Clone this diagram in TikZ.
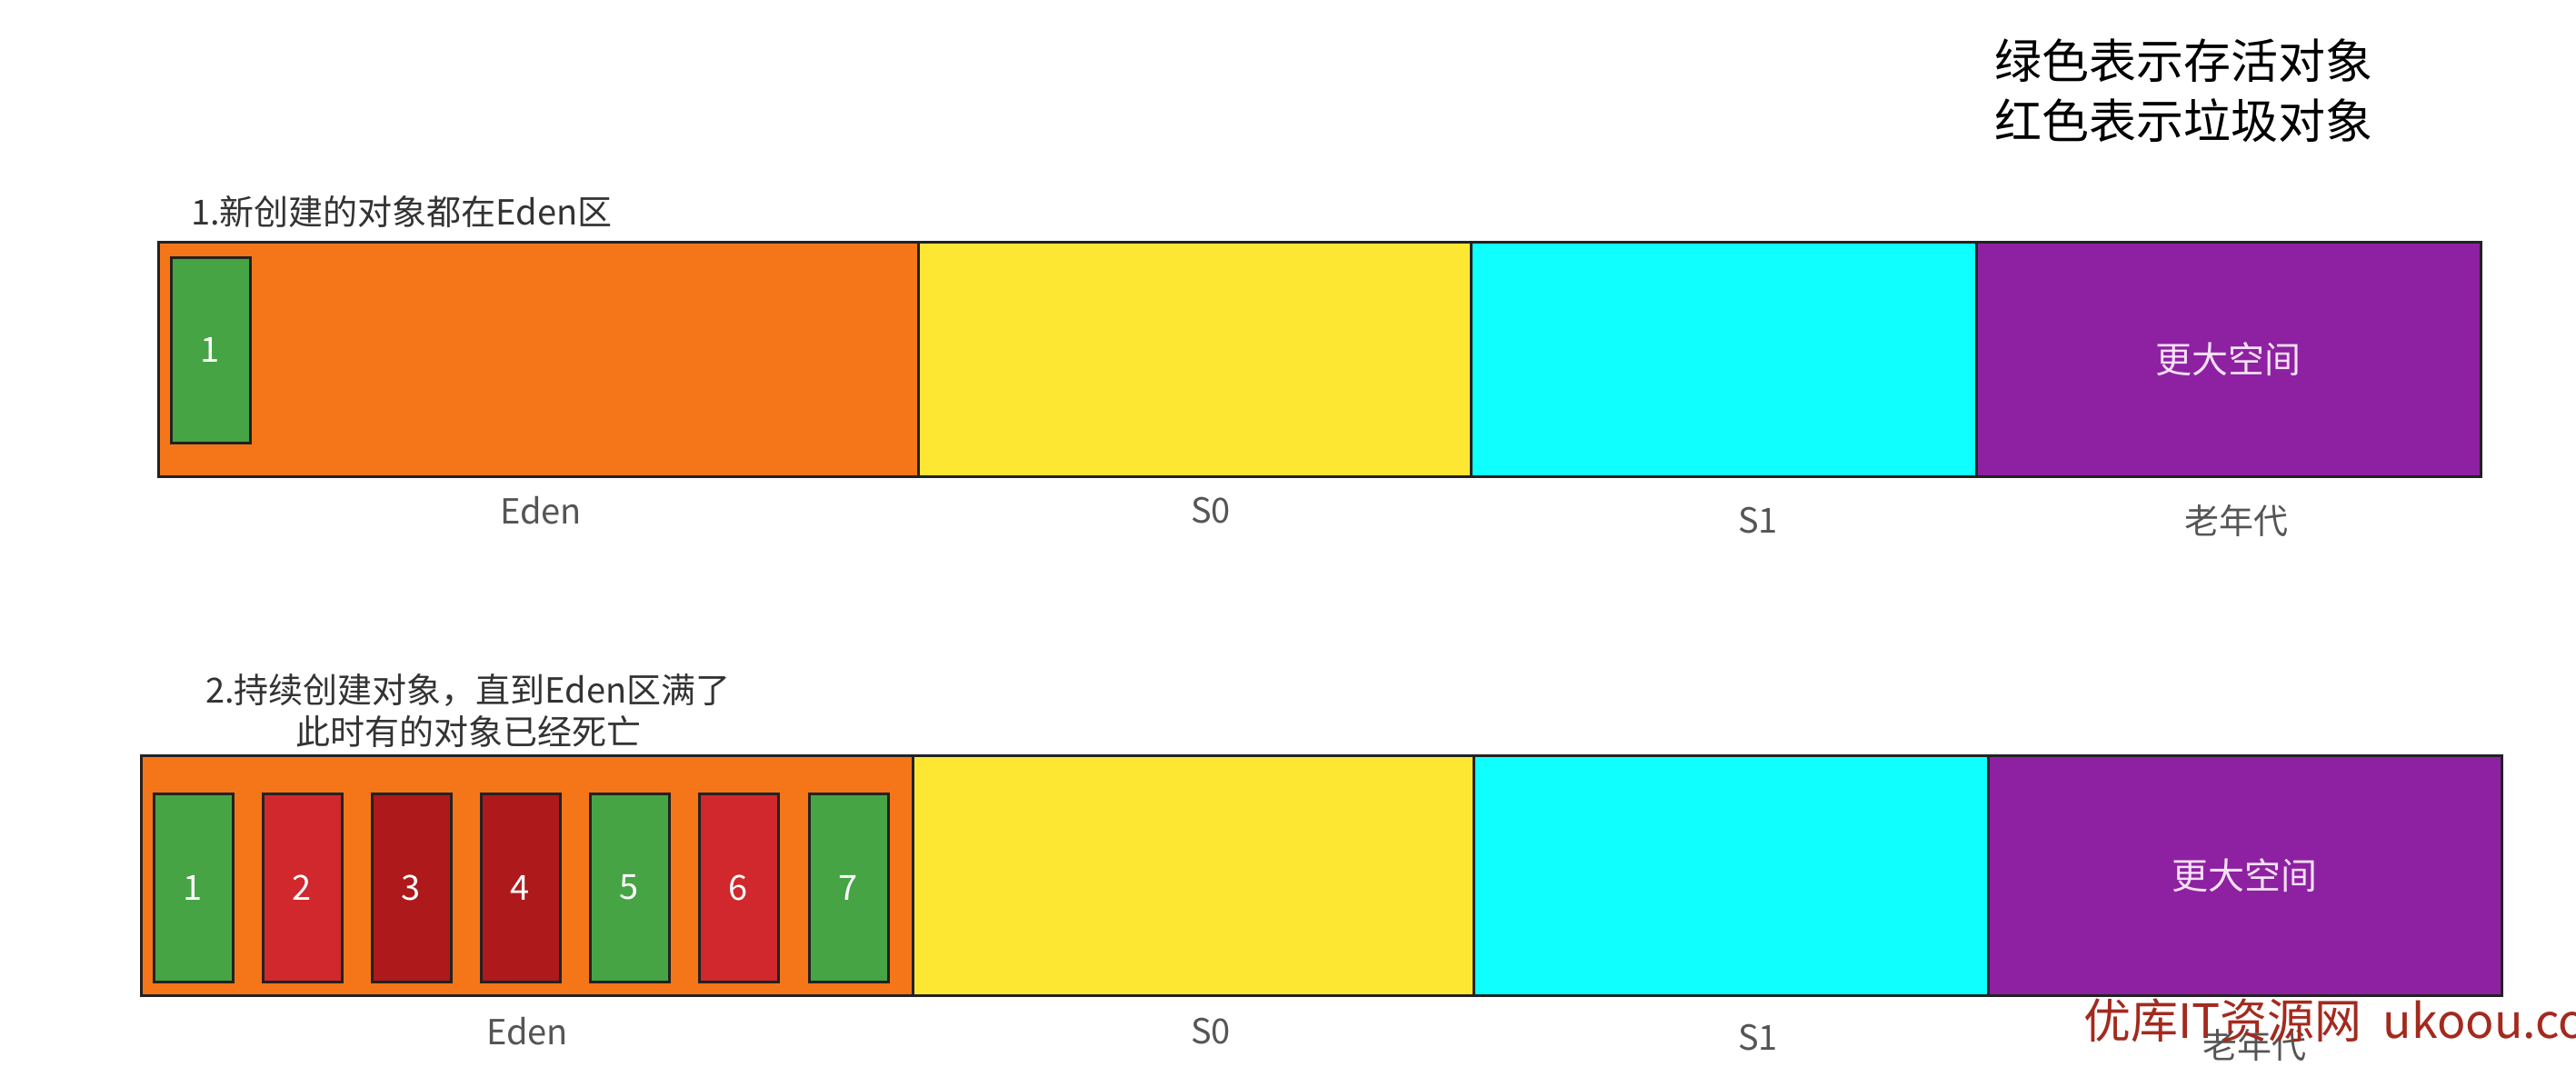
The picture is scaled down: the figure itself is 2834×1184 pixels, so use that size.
\documentclass[tikz,border=0pt]{standalone}
\usepackage{fontspec}
\setmainfont{Noto Sans CJK SC}
\definecolor{edenc}{HTML}{F47619}
\definecolor{s0c}{HTML}{FDE733}
\definecolor{s1c}{HTML}{0FFFFF}
\definecolor{oldc}{HTML}{8E21A2}
\definecolor{livec}{HTML}{46A445}
\definecolor{deadc}{HTML}{D0282C}
\definecolor{deadd}{HTML}{AE191C}
\definecolor{edgec}{HTML}{222222}
\definecolor{labc}{HTML}{555555}
\definecolor{titc}{HTML}{333333}
\definecolor{oldtxt}{HTML}{F6E2F6}
\definecolor{wmc}{HTML}{A32A1E}
\tikzset{
  region/.style={draw=edgec, line width=3pt, inner sep=0pt, outer sep=0pt, anchor=north west},
  objbox/.style={draw=edgec, line width=3pt, inner sep=0pt, outer sep=0pt, anchor=north west,
     minimum width=87pt, text=white, font=\fontsize{38}{38}\selectfont},
  lab/.style={text=labc, inner sep=0pt, font=\fontsize{38}{40}\selectfont},
  tit/.style={text=titc, inner sep=0pt, font=\fontsize{38}{46}\selectfont},
  oldtext/.style={text=oldtxt, font=\fontsize{40}{40}\selectfont},
}
\begin{document}
\begin{tikzpicture}[x=1pt,y=-1pt]
\useasboundingbox (0,0) rectangle (2834,1184);
\clip (0,0) rectangle (2834,1184);
\fill[white] (0,0) rectangle (2834,1184);

% legend
\node[anchor=west, align=left, inner sep=0pt, font=\fontsize{52}{66}\selectfont] (legend) at (2194,100) {绿色表示存活对象\\红色表示垃圾对象};

% ---------- row 1 ----------
\node[tit, anchor=west] (title1) at (210,233) {1.新创建的对象都在Eden区};
\node[region, fill=edenc, minimum width=836pt, minimum height=258pt] (eden1) at (174,266) {};
\node[region, fill=s0c, minimum width=608pt, minimum height=258pt] (s01) at (1010,266) {};
\node[region, fill=s1c, minimum width=556pt, minimum height=258pt] (s11) at (1618,266) {};
\node[region, fill=oldc, minimum width=555pt, minimum height=258pt, oldtext] (old1) at (2174,266) {更大空间};
\node[objbox, fill=livec, minimum height=204pt] (o11) at (188,283) {1};

\node[lab] (leden1) at (595,562) {Eden};
\node[lab] (ls01) at (1332,562) {S0};
\node[lab] (ls11) at (1934,573) {S1};
\node[lab] (lold1) at (2460,573) {老年代};

% ---------- row 2 ----------
\node[tit, align=center] (title2) at (515,782) {2.持续创建对象，直到Eden区满了\\此时有的对象已经死亡};
\node[region, fill=edenc, minimum width=849pt, minimum height=264pt] (eden2) at (155,831) {};
\node[region, fill=s0c, minimum width=617pt, minimum height=264pt] (s02) at (1004,831) {};
\node[region, fill=s1c, minimum width=566pt, minimum height=264pt] (s12) at (1621,831) {};
\node[region, fill=oldc, minimum width=565pt, minimum height=264pt, oldtext] (old2) at (2187,831) {更大空间};

\node[objbox, fill=livec, minimum height=207pt] (o21) at (169,873) {1};
\node[objbox, fill=deadc, minimum height=207pt] (o22) at (289,873) {2};
\node[objbox, fill=deadd, minimum height=207pt] (o23) at (409,873) {3};
\node[objbox, fill=deadd, minimum height=207pt] (o24) at (529,873) {4};
\node[objbox, fill=livec, minimum height=207pt] (o25) at (649,873) {5};
\node[objbox, fill=deadc, minimum height=207pt] (o26) at (769,873) {6};
\node[objbox, fill=livec, minimum height=207pt] (o27) at (890,873) {7};

\node[lab] (leden2) at (580,1135) {Eden};
\node[lab] (ls02) at (1332,1135) {S0};
\node[lab] (ls12) at (1934,1142) {S1};
\node[lab] (lold2) at (2480,1150) {老年代};

% watermark
\node[anchor=west, inner sep=0pt, text=wmc, font=\fontsize{52}{52}\selectfont] (wm) at (2292,1123) {优库IT资源网\ \ ukoou.com};
\end{tikzpicture}
\end{document}
